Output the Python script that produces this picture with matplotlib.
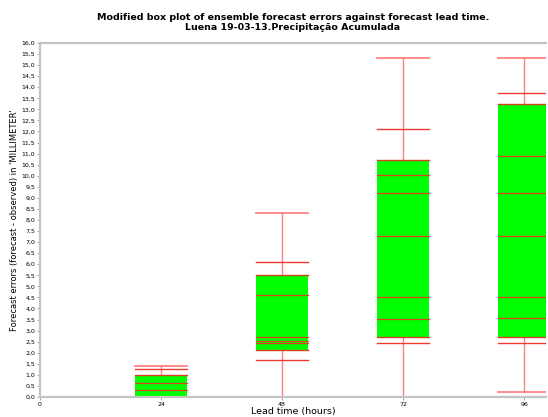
import matplotlib
matplotlib.use("Agg")
import matplotlib.pyplot as plt
from matplotlib.ticker import FuncFormatter, MultipleLocator

lead_times = [24, 48, 72, 96]
mins = [0.0, 0.0, 0.0, 0.21]
p_low = [0.0, 1.66, 2.45, 2.45]
q1 = [0.0, 2.12, 2.70, 2.70]
inner = [[0.32, 0.65], [2.45, 2.54, 2.72, 4.61], [3.52, 4.52, 7.28, 9.23, 10.04],
         [3.57, 4.52, 7.28, 9.23, 10.91]]
q3 = [1.00, 5.51, 10.72, 13.22]
p_high = [1.25, 6.10, 12.13, 13.76]
maxs = [1.42, 8.32, 15.34, 15.34]

title = "Modified box plot of ensemble forecast errors against forecast lead time.\nLuena 19-03-13.Precipitação Acumulada"

fig = plt.figure(figsize=(5.48, 4.17), dpi=100)
ax = fig.add_axes([0.073, 0.048, 0.923, 0.849])

w = 10.3
red = "#F03C30"
for i, x in enumerate(lead_times):
    ax.plot([x, x], [mins[i], maxs[i]], color="#FF8080", lw=1.0, zorder=1)
    ax.bar(x, q3[i] - q1[i], bottom=q1[i], width=w, color="#00FF00",
           edgecolor="none", zorder=2)
    for v in [q1[i], q3[i]]:
        ax.plot([x - w / 2, x + w / 2], [v, v], color="#D84020", lw=1.0, zorder=3)
    for v in inner[i]:
        ax.plot([x - w / 2, x + w / 2], [v, v], color="#E04020", lw=0.9, zorder=3)
    for v in [p_low[i], p_high[i]]:
        ax.plot([x - w / 2, x + w / 2], [v, v], color=red, lw=1.0, zorder=3)
    for v in [mins[i], maxs[i]]:
        ax.plot([x - w / 2, x + w / 2], [v, v], color="#FF7070", lw=1.4,
                alpha=0.8, zorder=3)

ax.set_xlim(0, 100.3)
ax.set_ylim(0, 16)
ax.set_xticks([0] + lead_times)
ax.yaxis.set_major_locator(MultipleLocator(0.5))
ax.yaxis.set_major_formatter(FuncFormatter(lambda v, p: f"{v:.1f}".replace(".", ",")))
ax.tick_params(labelsize=4.5, length=2, width=0.6, color="#999999", pad=1.5)

for s in ["top", "left", "bottom"]:
    ax.spines[s].set_color("#C4C4C4")
    ax.spines[s].set_linewidth(1.6)
    ax.spines[s].set_zorder(10)
ax.spines["right"].set_visible(False)

ax.set_title(title, fontsize=6.8, fontweight="bold", pad=9, linespacing=1.2)
ax.set_xlabel("Lead time (hours)", fontsize=6.8, labelpad=0)
ax.set_ylabel("Forecast errors (forecast - observed) in 'MILLIMETER'", fontsize=6, labelpad=2)

fig.savefig("out.png", dpi=100)
